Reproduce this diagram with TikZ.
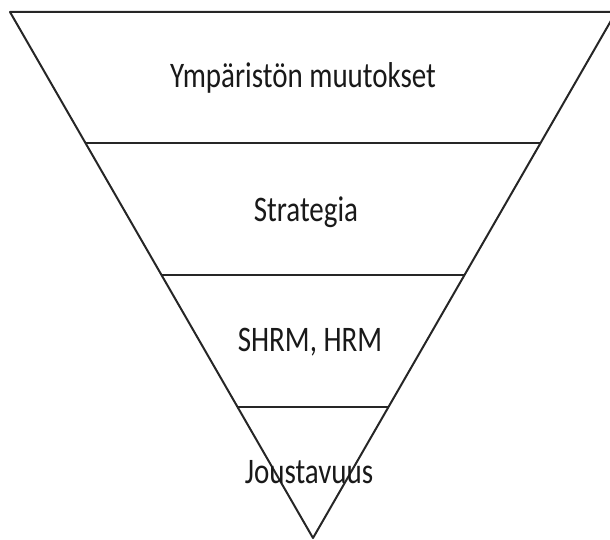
\documentclass[tikz,border=0pt]{standalone}
\usepackage{fontspec}
\setmainfont{Carlito}
\usetikzlibrary{calc}
\tikzset{
  edge/.style={line width=2pt, black!85},
  level/.style={anchor=base, inner sep=0pt, font=\fontsize{29}{34}\selectfont, text=black!90}
}
\newcommand{\tall}[1]{\scalebox{1}[1.24]{#1}}
\begin{document}
\begin{tikzpicture}[x=1pt, y=-1pt]
  \useasboundingbox (0,0) rectangle (610,540);
  \clip (0,0) rectangle (610,540);
  % corners of the inverted triangle
  \coordinate (tl) at (10,12);
  \coordinate (tr) at (616,12);
  \coordinate (apex) at (313,538);
  % dividing lines at quarter heights
  \foreach \t/\n in {0.25/a, 0.5/b, 0.75/c} {
    \coordinate (l\n) at ($(tl)!\t!(apex)$);
    \coordinate (r\n) at ($(tr)!\t!(apex)$);
  }
  \draw[edge, line join=round] (tl) -- (tr) -- (apex) -- cycle;
  \draw[edge] (la) -- (ra);
  \draw[edge] (lb) -- (rb);
  \draw[edge] (lc) -- (rc);
  % level labels
  \node[level] (env) at (303,88) {\tall{Ympäristön muutokset}};
  \node[level] (strat) at (306,222) {\tall{Strategia}};
  \node[level] (hrm) at (310,351) {\tall{SHRM, HRM}};
  \node[level] (flex) at (309,483) {\tall{Joustavuus}};
\end{tikzpicture}
\end{document}
